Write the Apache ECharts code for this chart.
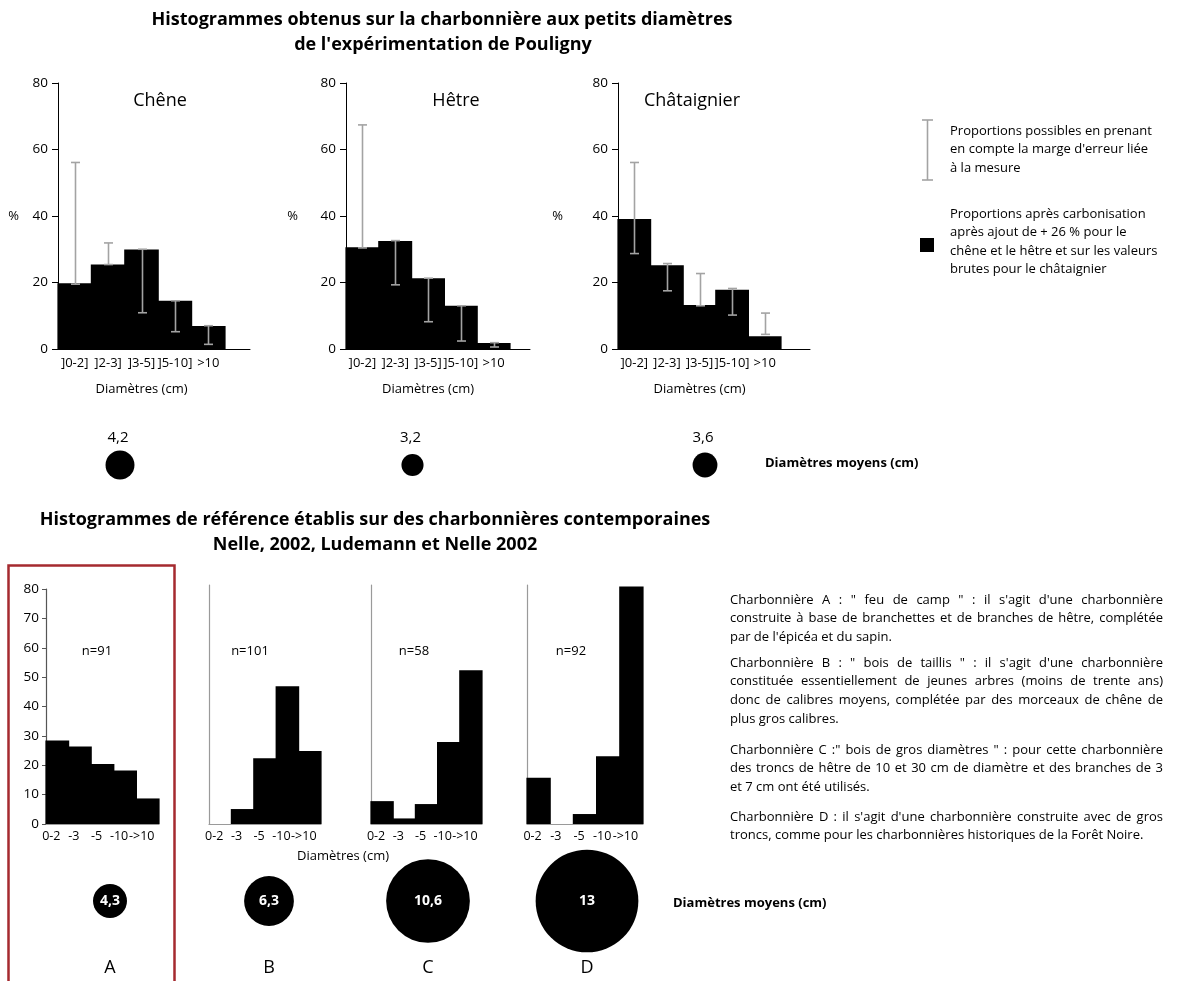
<!DOCTYPE html>
<html>
<head>
<meta charset="utf-8">
<script src="https://cdn.jsdelivr.net/npm/echarts@6/dist/echarts.min.js"></script>
<style>html,body{margin:0;padding:0;background:#fff}#c{width:1178px;height:981px}</style>
</head>
<body>
<div id="c"></div>
<script>
// ---------- DATA ----------
const topCategories = [']0-2]', ']2-3]', ']3-5]', ']5-10]', '>10'];
const cheneValues = [19.8, 25.4, 29.9, 14.5, 6.9];
const cheneLow    = [19.5, 25.4, 10.9, 5.2, 1.4];
const cheneHigh   = [56.1, 31.9, 30.0, 14.5, 7.0];
const hetreValues = [30.6, 32.5, 21.3, 13.0, 1.8];
const hetreLow    = [30.4, 19.3, 8.2, 2.4, 0.6];
const hetreHigh   = [67.4, 32.6, 21.3, 13.0, 1.9];
const chataignierValues = [39.1, 25.2, 13.2, 17.8, 3.8];
const chataignierLow    = [28.7, 17.5, 13.0, 10.2, 4.4];
const chataignierHigh   = [56.1, 25.7, 22.7, 18.2, 10.8];
const topSpecies = ['Chêne', 'Hêtre', 'Châtaignier'];
const topMeanDiameters = [4.2, 3.2, 3.6];

const refCategories = ['0-2', '-3', '-5', '-10', '->10'];
const refA = [28.4, 26.4, 20.4, 18.2, 8.7];
const refB = [0, 5.1, 22.4, 47.0, 24.9];
const refC = [7.8, 1.9, 6.8, 28.0, 52.4];
const refD = [15.8, 0, 3.4, 23.1, 81.0];
const refNames = ['A', 'B', 'C', 'D'];
const refCounts = ['n=91', 'n=101', 'n=58', 'n=92'];
const refMeanDiameters = [4.3, 6.3, 10.6, 13];

// ---------- LAYOUT ----------
const FONT = '"Open Sans", "Noto Sans", sans-serif';
const chart = echarts.init(document.getElementById('c'), null, {renderer: 'canvas'});
const fmtComma = v => String(v).replace('.', ',');

const grids = [], xAxes = [], yAxes = [], series = [], graphics = [];
function addGrid(g) { grids.push(g); return grids.length - 1; }

// histogram bars drawn edge to edge (no seams) through the axes' scales
function histSeries(xi, yi, values) {
  return {type: 'custom', xAxisIndex: xi, yAxisIndex: yi, z: 2, silent: true, clip: false,
    data: values.map((v, i) => [i, v]),
    renderItem: (params, api) => {
      const v = api.value(1);
      if (!v) return null;
      const top = api.coord([api.value(0), v]);
      const base = api.coord([api.value(0), 0]);
      const bw = api.size([1, 0])[0];
      return {type: 'rect', shape: {x: top[0] - bw / 2 - 0.6, y: top[1], width: bw + 1.2, height: base[1] - top[1]},
        style: {fill: '#000'}};
    }
  };
}

// top histograms
const topLayout = [
  {left: 58, width: 167, ext: 192, pctGap: 39, values: cheneValues, low: cheneLow, high: cheneHigh, titleX: 160},
  {left: 346, width: 164, ext: 184, pctGap: 48, values: hetreValues, low: hetreLow, high: hetreHigh, titleX: 456},
  {left: 618, width: 163, ext: 192, pctGap: 55, values: chataignierValues, low: chataignierLow, high: chataignierHigh, titleX: 692}
];
const TOP_Y0 = 83, TOP_H = 266;

topLayout.forEach((L, k) => {
  const ge = addGrid({left: L.left, top: TOP_Y0, width: L.ext, height: TOP_H});
  xAxes.push({gridIndex: ge, type: 'value', min: 0, max: 1, axisLine: {show: true, lineStyle: {color: '#000', width: 1}},
    axisTick: {show: false}, axisLabel: {show: false}, splitLine: {show: false}});
  yAxes.push({gridIndex: ge, type: 'value', min: 0, max: 80, show: false});

  const gi = addGrid({left: L.left, top: TOP_Y0, width: L.width, height: TOP_H});
  xAxes.push({gridIndex: gi, type: 'category', data: topCategories,
    axisLine: {show: false}, axisTick: {show: false},
    axisLabel: {color: '#000', fontSize: 13, fontFamily: FONT, margin: 8, interval: 0},
    name: 'Diamètres (cm)', nameLocation: 'middle', nameGap: 34,
    nameTextStyle: {color: '#000', fontSize: 13, fontFamily: FONT}
  });
  yAxes.push({gridIndex: gi, type: 'value', min: 0, max: 80, interval: 20,
    axisLine: {show: true, lineStyle: {color: '#000', width: 1}},
    axisTick: {show: true, length: 6, lineStyle: {color: '#000'}},
    axisLabel: {color: '#000', fontSize: 13.5, fontFamily: FONT, margin: 10},
    splitLine: {show: false},
    name: '%', nameLocation: 'middle', nameRotate: 0, nameGap: L.pctGap,
    nameTextStyle: {color: '#000', fontSize: 13, fontFamily: FONT}
  });
  const xi = xAxes.length - 1, yi = yAxes.length - 1;
  series.push(histSeries(xi, yi, L.values));
  series.push({type: 'custom', xAxisIndex: xi, yAxisIndex: yi, z: 5, silent: true,
    data: L.low.map((lo, i) => [i, lo, L.high[i]]),
    renderItem: (params, api) => {
      const a = api.coord([api.value(0), api.value(1)]);
      const b = api.coord([api.value(0), api.value(2)]);
      const x = Math.round(a[0]) + 0.5, cw = 4.5;
      const st = {stroke: '#a3a3a3', lineWidth: 1.6};
      return {type: 'group', children: [
        {type: 'line', shape: {x1: x, y1: a[1], x2: x, y2: b[1]}, style: st},
        {type: 'line', shape: {x1: x - cw, y1: a[1], x2: x + cw, y2: a[1]}, style: st},
        {type: 'line', shape: {x1: x - cw, y1: b[1], x2: x + cw, y2: b[1]}, style: st}
      ]};
    }
  });
  graphics.push({type: 'text', x: L.titleX, y: 101, style: {text: topSpecies[k], font: '18px ' + FONT, fill: '#000', textAlign: 'center', textVerticalAlign: 'middle'}});
});

// top mean-diameter circles
{
  const gi = addGrid({left: 120, top: 440, width: 585, height: 50});
  xAxes.push({gridIndex: gi, type: 'category', data: topSpecies, boundaryGap: false, show: false});
  yAxes.push({gridIndex: gi, type: 'value', min: 0, max: 1, show: false});
  series.push({type: 'scatter', xAxisIndex: xAxes.length - 1, yAxisIndex: yAxes.length - 1, silent: true,
    data: topMeanDiameters.map((v, i) => [i, 0.5, v]),
    symbolSize: d => d[2] * 6.9, itemStyle: {color: '#000', opacity: 1},
    label: {show: true, position: 'inside', offset: [-2, -27], formatter: p => fmtComma(p.data[2]),
      color: '#000', fontSize: 15, fontFamily: FONT}
  });
}

// reference histograms
const refLayout = [
  {left: 46, width: 113, top: 589, height: 235, max: 80, values: refA, showAxis: true},
  {left: 209, width: 112, top: 585, height: 239, max: 81.5, values: refB, showAxis: false},
  {left: 371, width: 111, top: 585, height: 239, max: 81.5, values: refC, showAxis: false},
  {left: 527, width: 116, top: 585, height: 239, max: 81.5, values: refD, showAxis: false}
];
refLayout.forEach((L, k) => {
  const gi = addGrid({left: L.left, top: L.top, width: L.width, height: L.height});
  xAxes.push({gridIndex: gi, type: 'category', data: refCategories,
    axisLine: {show: true, lineStyle: {color: '#9a9a9a', width: 1.2}}, axisTick: {show: false},
    axisLabel: {color: '#000', fontSize: 12.5, fontFamily: FONT, margin: 6, interval: 0, padding: [0, 12, 0, 0]}
  });
  yAxes.push({gridIndex: gi, type: 'value', min: 0, max: L.max, interval: 10,
    axisLine: {show: true, lineStyle: {color: L.showAxis ? '#555' : '#9a9a9a', width: 1.2}},
    axisTick: {show: L.showAxis, length: 4, lineStyle: {color: '#555'}},
    axisLabel: {show: L.showAxis, color: '#000', fontSize: 13.5, fontFamily: FONT, margin: 7},
    splitLine: {show: false}
  });
  series.push(histSeries(xAxes.length - 1, yAxes.length - 1, L.values));
  graphics.push({type: 'text', x: [97, 250, 414, 571][k], y: 651, style: {text: refCounts[k], font: '13px ' + FONT, fill: '#000', textAlign: 'center', textVerticalAlign: 'middle'}});
});

// reference mean-diameter circles
{
  const gi = addGrid({left: 110, top: 850, width: 477, height: 102});
  xAxes.push({gridIndex: gi, type: 'category', data: refNames, boundaryGap: false,
    axisLine: {show: false}, axisTick: {show: false},
    axisLabel: {color: '#000', fontSize: 18, fontFamily: FONT, margin: 7}});
  yAxes.push({gridIndex: gi, type: 'value', min: 0, max: 1, show: false});
  series.push({type: 'scatter', xAxisIndex: xAxes.length - 1, yAxisIndex: yAxes.length - 1, silent: true,
    data: refMeanDiameters.map((v, i) => [i, 0.5, v]),
    symbolSize: d => d[2] * 7.9, itemStyle: {color: '#000', opacity: 1},
    label: {show: true, position: 'inside', formatter: p => fmtComma(p.data[2]),
      color: '#fff', fontSize: 14, fontWeight: 'bold', fontFamily: FONT}
  });
}

// ---------- TEXT ----------
function txt(x, y, text, font, align, extra) {
  graphics.push({type: 'text', x: x, y: y, style: Object.assign({text: text, font: font, fill: '#000', textAlign: align || 'left', textVerticalAlign: 'middle'}, extra || {})});
}
txt(442, 20, 'Histogrammes obtenus sur la charbonnière aux petits diamètres', 'bold 18px ' + FONT, 'center');
txt(443, 45, "de l'expérimentation de Pouligny", 'bold 18px ' + FONT, 'center');
txt(375, 520, 'Histogrammes de référence établis sur des charbonnières contemporaines', 'bold 18px ' + FONT, 'center');
txt(375, 545, 'Nelle, 2002, Ludemann et Nelle 2002', 'bold 18px ' + FONT, 'center');

// legend
graphics.push({type: 'group', children: [
  {type: 'line', shape: {x1: 927.5, y1: 120, x2: 927.5, y2: 180}, style: {stroke: '#a3a3a3', lineWidth: 1.6}},
  {type: 'line', shape: {x1: 922, y1: 120, x2: 933, y2: 120}, style: {stroke: '#a3a3a3', lineWidth: 1.6}},
  {type: 'line', shape: {x1: 922, y1: 180, x2: 933, y2: 180}, style: {stroke: '#a3a3a3', lineWidth: 1.6}},
  {type: 'rect', shape: {x: 920, y: 238, width: 14, height: 14}, style: {fill: '#000'}}
]});
txt(950, 122, "Proportions possibles en prenant\nen compte la marge d'erreur liée\nà la mesure", '13px ' + FONT, 'left', {lineHeight: 18.5, textVerticalAlign: 'top'});
txt(950, 205, "Proportions après carbonisation\naprès ajout de + 26 % pour le\nchêne et le hêtre et sur les valeurs\nbrutes pour le châtaignier", '13px ' + FONT, 'left', {lineHeight: 18.5, textVerticalAlign: 'top'});

txt(765, 463, 'Diamètres moyens (cm)', 'bold 13px ' + FONT, 'left');
txt(673, 903, 'Diamètres moyens (cm)', 'bold 13px ' + FONT, 'left');
txt(343, 856, 'Diamètres (cm)', '13px ' + FONT, 'center');

// justified description paragraphs
const paragraphs = [
  [600, ['Charbonnière A : " feu de camp " : il s\'agit d\'une charbonnière', 'construite à base de branchettes et de branches de hêtre, complétée', 'par de l\'épicéa et du sapin.']],
  [663, ['Charbonnière B : " bois de taillis " : il s\'agit d\'une charbonnière', 'constituée essentiellement de jeunes arbres (moins de trente ans)', 'donc de calibres moyens, complétée par des morceaux de chêne de', 'plus gros calibres.']],
  [750, ['Charbonnière C :" bois de gros diamètres " : pour cette charbonnière', 'des troncs de hêtre de 10 et 30 cm de diamètre et des branches de 3', 'et 7 cm ont été utilisés.']],
  [817, ['Charbonnière D : il s\'agit d\'une charbonnière construite avec de gros', 'troncs, comme pour les charbonnières historiques de la Forêt Noire.']]
];
const PFONT = '13px ' + FONT, PX = 730, PW = 433, PLH = 18.7;
const mctx = document.createElement('canvas').getContext('2d');
mctx.font = PFONT;
paragraphs.forEach(([y0, lines]) => {
  lines.forEach((line, li) => {
    const y = y0 + li * PLH;
    if (li === lines.length - 1) { txt(PX, y, line, PFONT, 'left'); return; }
    const words = line.split(' ');
    const wsum = words.reduce((s, w) => s + mctx.measureText(w).width, 0);
    const gap = (PW - wsum) / (words.length - 1);
    let x = PX;
    words.forEach(w => { txt(x, y, w, PFONT, 'left'); x += mctx.measureText(w).width + gap; });
  });
});

// red frame around A
graphics.push({type: 'rect', shape: {x: 8.5, y: 565.5, width: 166, height: 430}, style: {fill: 'none', stroke: '#a52a2f', lineWidth: 2.5}, z: 100});

chart.setOption({
  animation: false,
  backgroundColor: '#fff',
  grid: grids,
  xAxis: xAxes,
  yAxis: yAxes,
  series: series,
  graphic: graphics
});
</script>
</body>
</html>
